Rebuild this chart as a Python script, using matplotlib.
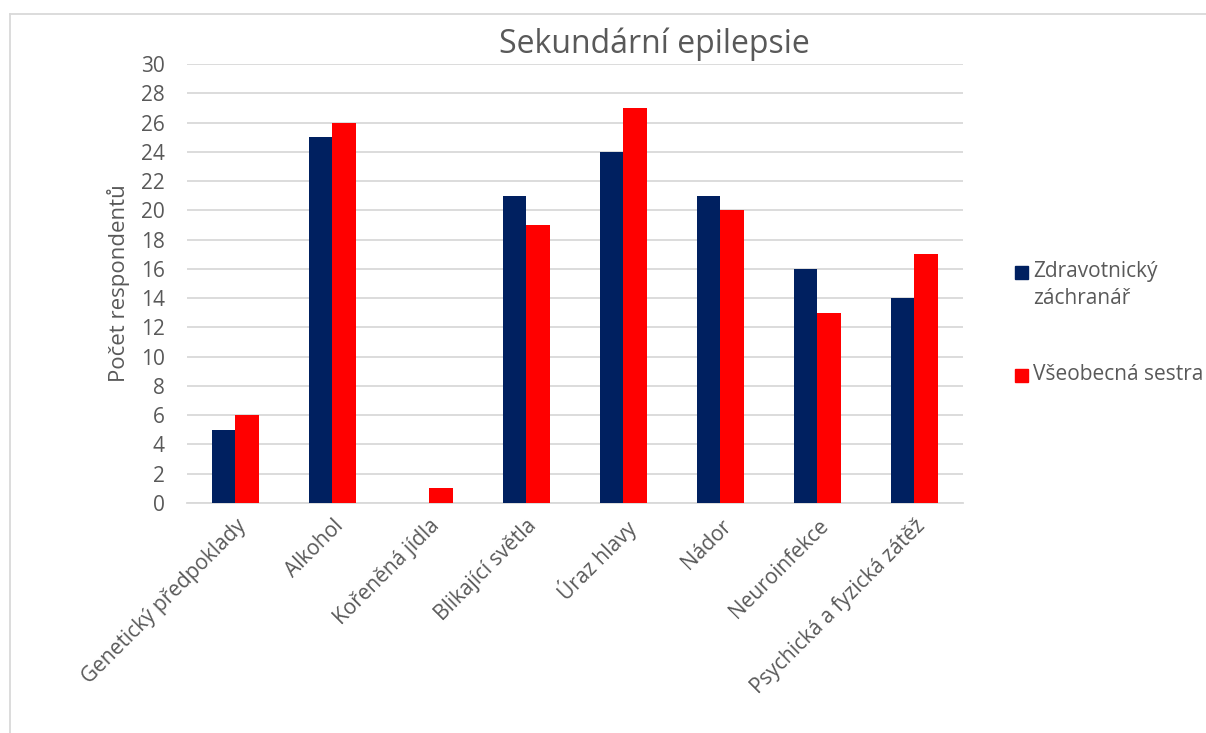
import numpy as np
import matplotlib.pyplot as plt
from matplotlib.lines import Line2D
from matplotlib.patches import Rectangle

categories = ['Genetický předpoklady', 'Alkohol', 'Kořeněná jídla', 'Blikající světla',
              'Úraz hlavy', 'Nádor', 'Neuroinfekce', 'Psychická a fyzická zátěž']
zachranar = [5, 25, 0, 21, 24, 21, 16, 14]
sestra = [6, 26, 1, 19, 27, 20, 13, 17]
series_names = ['Zdravotnický\nzáchranář', 'Všeobecná sestra']
colors = ['#002060', '#ff0000']

plt.rcParams['font.family'] = ['Open Sans', 'DejaVu Sans']
txt = '#595959'
grid = '#d9d9d9'

fig = plt.figure(figsize=(12.06, 7.33), dpi=100)
ax = fig.add_axes([0.155, 0.3138, 0.6435, 0.5989])

x = np.arange(len(categories))
w = 0.24
ax.bar(x - w / 2, zachranar, w, color=colors[0], zorder=3)
ax.bar(x + w / 2, sestra, w, color=colors[1], zorder=3)

ax.set_xlim(-0.5, len(categories) - 0.5)
ax.set_ylim(0, 30)
ax.set_yticks(range(0, 31, 2))
ax.yaxis.grid(True, color=grid, linewidth=1.3, zorder=0)
for s in ['top', 'right', 'left']:
    ax.spines[s].set_visible(False)
ax.spines['bottom'].set_color(grid)
ax.spines['bottom'].set_linewidth(1.3)
ax.tick_params(axis='both', length=0, labelsize=15, colors=txt)
ax.tick_params(axis='y', pad=16)
ax.set_xticks(x)
ax.set_xticklabels(categories, rotation=45, ha='right', rotation_mode='anchor')
ax.tick_params(axis='x', pad=9)
ax.set_ylabel('Počet respondentů', fontsize=16, color=txt, labelpad=8)
fig.text(0.543, 0.94, 'Sekundární epilepsie', fontsize=23, color=txt, ha='center', va='center')

# legend drawn by hand so the marker sits on the first line of the label
leg_y = [1 - 272 / 733, 1 - 375 / 733]
for name, c, y in zip(series_names, colors, leg_y):
    fig.add_artist(Rectangle((1015 / 1206, y - 6.5 / 733), 13 / 1206, 13 / 733,
                             color=c, transform=fig.transFigure))
    fig.text(1033 / 1206, y + 11 / 733, name, fontsize=15, color=txt, ha='left', va='top',
             linespacing=1.35)

# chart border
fig.add_artist(Line2D([0.0083, 0.0083], [0, 0.981], color=grid, lw=1.3, transform=fig.transFigure))
fig.add_artist(Line2D([0.0083, 1], [0.981, 0.981], color=grid, lw=1.3, transform=fig.transFigure))

fig.savefig('out.png', dpi=100)
